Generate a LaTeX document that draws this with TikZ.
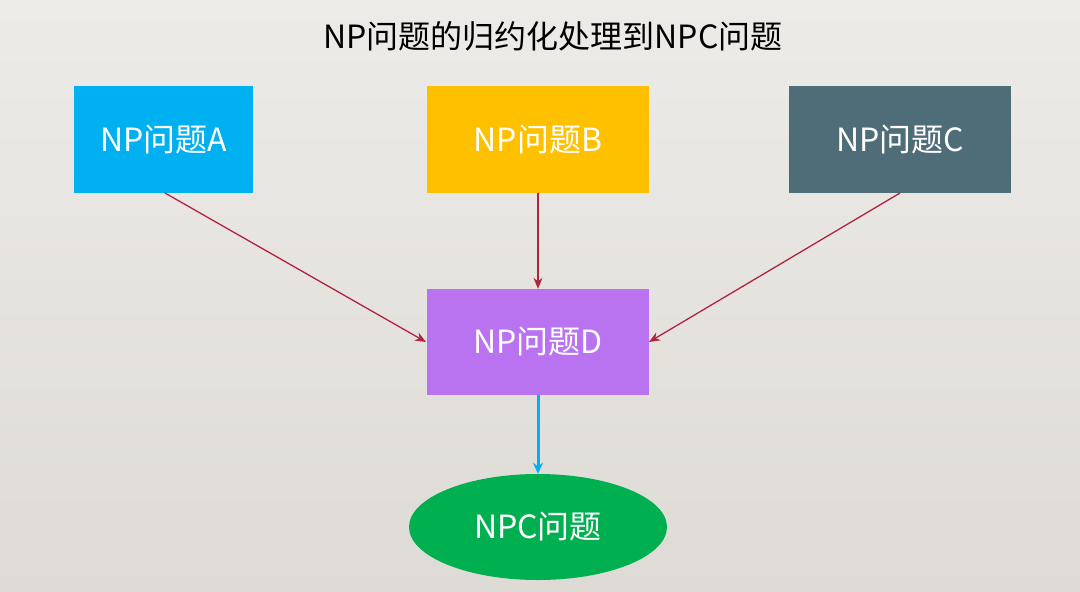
\documentclass[tikz,border=0pt]{standalone}
\usepackage{fontspec}
\setmainfont{Noto Sans CJK SC}
\usetikzlibrary{shapes.geometric,arrows.meta}
\definecolor{bgtop}{HTML}{EDEBE8}
\definecolor{bgbot}{HTML}{DEDBD6}
\definecolor{boxA}{HTML}{00B0F0}
\definecolor{boxB}{HTML}{FFC000}
\definecolor{boxC}{HTML}{4E6D79}
\definecolor{boxD}{HTML}{B973F1}
\definecolor{npc}{HTML}{00B050}
\definecolor{arr}{HTML}{B0243F}
\tikzset{
  x=1pt, y=-1pt,
  bigtext/.style={font=\fontsize{32}{34}\selectfont},
  probbox/.style={rectangle, inner sep=0pt, text=white, bigtext},
  redarrow/.style={draw=arr, line width=1.3pt, -{Stealth[length=11pt,width=9pt]}},
  bluearrow/.style={draw=boxA, line width=3pt, -{Stealth[length=11pt,width=10pt]}}
}
\begin{document}
\begin{tikzpicture}
\shade[top color=bgtop, bottom color=bgbot] (0,0) rectangle (1080,592);
\useasboundingbox (0,0) rectangle (1080,592);
\node[bigtext, text=black] (title) at (553,36) {NP问题的归约化处理到NPC问题};
\node[probbox, fill=boxA, minimum width=179pt, minimum height=107pt] (A) at (163.5,139.5) {NP问题A};
\node[probbox, fill=boxB, minimum width=222pt, minimum height=107pt] (B) at (538,139.5) {NP问题B};
\node[probbox, fill=boxC, minimum width=222pt, minimum height=107pt] (C) at (900,139.5) {NP问题C};
\node[probbox, fill=boxD, minimum width=222pt, minimum height=106pt] (D) at (538,342) {NP问题D};
\node[ellipse, fill=npc, inner sep=0pt, minimum width=258pt, minimum height=106pt, text=white, bigtext] (E) at (538,527) {NPC问题};
\coordinate (Aout) at (165,193);
\coordinate (Cout) at (900,193);
\coordinate (Din) at (426,342);
\coordinate (Dinr) at (649,342);
\draw[redarrow] (Aout) -- (Din);
\draw[redarrow] (B.south) -- (D.north);
\draw[redarrow] (Cout) -- (Dinr);
\draw[bluearrow] (D.south) -- (E.north);
\end{tikzpicture}
\end{document}
